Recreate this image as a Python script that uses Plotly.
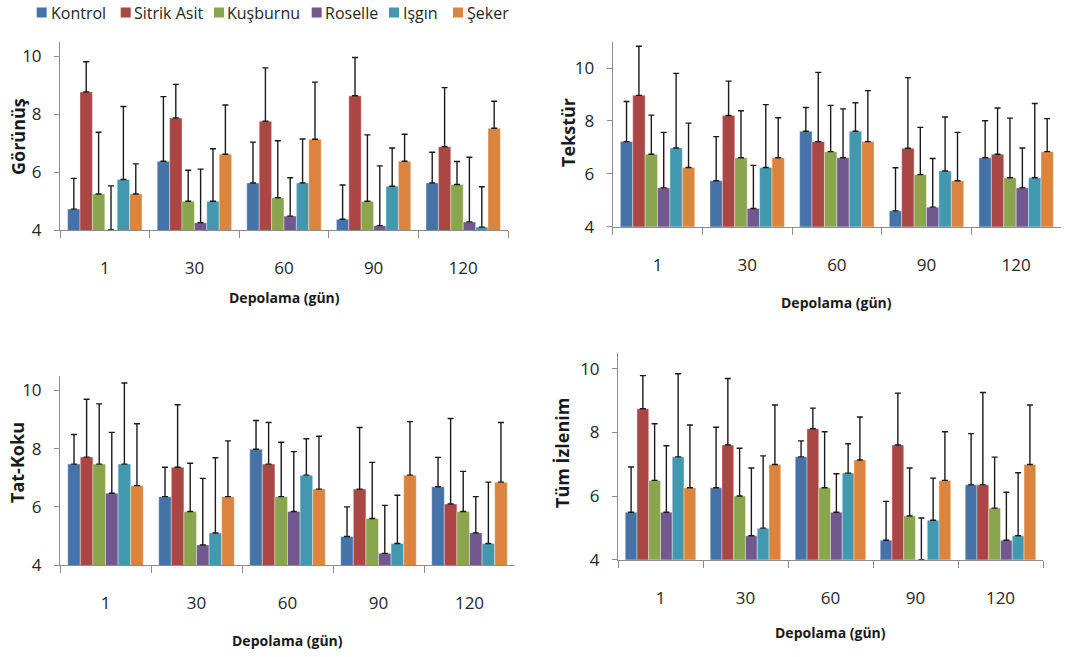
import plotly.graph_objects as go

W, H = 1081, 657

days = ["1", "30", "60", "90", "120"]
groups = ["Kontrol", "Sitrik Asit", "Kuşburnu", "Roselle", "Işgın", "Şeker"]
colors = ["#4572A7", "#AA4643", "#89A54E", "#71588F", "#4198AF", "#DB843D"]

# ---- Görünüş (appearance) ----
gorunus_kontrol = [4.72, 6.37, 5.62, 4.37, 5.62]
gorunus_sitrik = [8.76, 7.86, 7.75, 8.63, 6.87]
gorunus_kusburnu = [5.24, 4.99, 5.11, 4.99, 5.57]
gorunus_roselle = [4.00, 4.25, 4.48, 4.15, 4.28]
gorunus_isgin = [5.74, 4.99, 5.62, 5.51, 4.10]
gorunus_seker = [5.24, 6.61, 7.13, 6.37, 7.51]
gorunus_kontrol_sd = [1.06, 2.23, 1.41, 1.18, 1.06]
gorunus_sitrik_sd = [1.04, 1.16, 1.84, 1.32, 2.04]
gorunus_kusburnu_sd = [2.13, 1.07, 1.97, 2.29, 0.79]
gorunus_roselle_sd = [1.52, 1.85, 1.32, 2.06, 2.23]
gorunus_isgin_sd = [2.52, 1.81, 1.52, 1.32, 1.39]
gorunus_seker_sd = [1.04, 1.70, 1.97, 0.93, 0.93]

# ---- Tekstür (texture) ----
tekstur_kontrol = [7.22, 5.74, 7.61, 4.60, 6.61]
tekstur_sitrik = [8.97, 8.21, 7.22, 6.97, 6.74]
tekstur_kusburnu = [6.74, 6.61, 6.84, 5.97, 5.85]
tekstur_roselle = [5.47, 4.69, 6.61, 4.74, 5.47]
tekstur_isgin = [6.98, 6.24, 7.61, 6.11, 5.85]
tekstur_seker = [6.24, 6.61, 7.22, 5.74, 6.84]
tekstur_kontrol_sd = [1.52, 1.67, 0.90, 1.63, 1.40]
tekstur_sitrik_sd = [1.86, 1.30, 2.62, 2.67, 1.75]
tekstur_kusburnu_sd = [1.48, 1.78, 1.75, 1.79, 2.26]
tekstur_roselle_sd = [2.10, 1.63, 1.85, 1.84, 1.51]
tekstur_isgin_sd = [2.82, 2.38, 1.08, 2.04, 2.81]
tekstur_seker_sd = [1.68, 1.51, 1.93, 1.83, 1.25]

# ---- Tat-Koku (taste-odour) ----
tatkoku_kontrol = [7.47, 6.35, 7.98, 4.98, 6.69]
tatkoku_sitrik = [7.71, 7.36, 7.47, 6.61, 6.10]
tatkoku_kusburnu = [7.47, 5.84, 6.35, 5.60, 5.84]
tatkoku_roselle = [6.47, 4.69, 5.84, 4.40, 5.10]
tatkoku_isgin = [7.47, 5.10, 7.09, 4.74, 4.74]
tatkoku_seker = [6.73, 6.35, 6.61, 7.09, 6.85]
tatkoku_kontrol_sd = [1.02, 1.01, 0.99, 1.02, 1.01]
tatkoku_sitrik_sd = [1.99, 2.15, 1.43, 2.12, 2.94]
tatkoku_kusburnu_sd = [2.07, 1.66, 1.87, 1.93, 1.38]
tatkoku_roselle_sd = [2.09, 2.29, 2.06, 1.65, 1.25]
tatkoku_isgin_sd = [2.79, 2.59, 1.25, 1.66, 2.11]
tatkoku_seker_sd = [2.13, 1.92, 1.82, 1.84, 2.05]

# ---- Tüm İzlenim (overall impression) ----
tum_kontrol = [5.49, 6.26, 7.23, 4.61, 6.35]
tum_sitrik = [8.74, 7.60, 8.11, 7.60, 6.35]
tum_kusburnu = [6.49, 6.00, 6.26, 5.37, 5.62]
tum_roselle = [5.49, 4.75, 5.49, 4.00, 4.61]
tum_isgin = [7.23, 4.99, 6.72, 5.24, 4.75]
tum_seker = [6.26, 6.99, 7.13, 6.49, 6.99]
tum_kontrol_sd = [1.42, 1.90, 0.50, 1.22, 1.61]
tum_sitrik_sd = [1.04, 2.09, 0.65, 1.63, 2.90]
tum_kusburnu_sd = [1.78, 1.50, 1.76, 1.51, 1.60]
tum_roselle_sd = [2.09, 2.13, 1.21, 1.31, 1.51]
tum_isgin_sd = [2.61, 2.27, 0.92, 1.32, 1.98]
tum_seker_sd = [1.97, 1.87, 1.35, 1.53, 1.87]

panels = [
    dict(title="Görünüş",
         means=[gorunus_kontrol, gorunus_sitrik, gorunus_kusburnu, gorunus_roselle, gorunus_isgin, gorunus_seker],
         sds=[gorunus_kontrol_sd, gorunus_sitrik_sd, gorunus_kusburnu_sd, gorunus_roselle_sd, gorunus_isgin_sd, gorunus_seker_sd],
         box=(60, 508, 41.5, 230), ymax=10.5, ytitle=(18, 137), xtitle=(284, 297)),
    dict(title="Tekstür",
         means=[tekstur_kontrol, tekstur_sitrik, tekstur_kusburnu, tekstur_roselle, tekstur_isgin, tekstur_seker],
         sds=[tekstur_kontrol_sd, tekstur_sitrik_sd, tekstur_kusburnu_sd, tekstur_roselle_sd, tekstur_isgin_sd, tekstur_seker_sd],
         box=(612.7, 1061, 41.7, 226.7), ymax=11, ytitle=(568, 133), xtitle=(836.7, 302)),
    dict(title="Tat-Koku",
         means=[tatkoku_kontrol, tatkoku_sitrik, tatkoku_kusburnu, tatkoku_roselle, tatkoku_isgin, tatkoku_seker],
         sds=[tatkoku_kontrol_sd, tatkoku_sitrik_sd, tatkoku_kusburnu_sd, tatkoku_roselle_sd, tatkoku_isgin_sd, tatkoku_seker_sd],
         box=(60, 515, 376, 565), ymax=10.5, ytitle=(17, 463), xtitle=(287.5, 640)),
    dict(title="Tüm İzlenim",
         means=[tum_kontrol, tum_sitrik, tum_kusburnu, tum_roselle, tum_isgin, tum_seker],
         sds=[tum_kontrol_sd, tum_sitrik_sd, tum_kusburnu_sd, tum_roselle_sd, tum_isgin_sd, tum_seker_sd],
         box=(618, 1043, 352.7, 559.7), ymax=10.5, ytitle=(562, 453), xtitle=(830.8, 632)),
]

FONT = "Open Sans"
fig = go.Figure()
annotations = []
shapes = []
layout = {}

for p_i, p in enumerate(panels):
    sfx = "" if p_i == 0 else str(p_i + 1)
    for g_i, g in enumerate(groups):
        fig.add_trace(go.Bar(
            x=days, y=p["means"][g_i], name=g, legendgroup=g,
            marker=dict(color=colors[g_i], line=dict(color="rgba(255,255,255,0.55)", width=0.7)),
            error_y=dict(type="data", array=p["sds"][g_i], arrayminus=[0] * len(days),
                         symmetric=False, color="#1a1a1a", thickness=1.4, width=3),
            xaxis="x" + sfx, yaxis="y" + sfx,
            showlegend=False,
        ))
    x0, x1, y0, y1 = p["box"]
    layout["xaxis" + sfx] = dict(
        domain=[x0 / W, x1 / W], anchor="y" + sfx, type="category", automargin=False,
        showline=True, linecolor="#8c8c8c", linewidth=1,
        ticks="outside", tickson="boundaries", ticklen=7, tickcolor="#8c8c8c",
        ticklabelstandoff=23,
        tickfont=dict(family=FONT, size=17, color="#262626"),
        showgrid=False, zeroline=False, fixedrange=True,
    )
    layout["yaxis" + sfx] = dict(
        domain=[1 - y1 / H, 1 - y0 / H], anchor="x" + sfx, automargin=False,
        range=[4, p["ymax"]], tickvals=[4, 6, 8, 10], ticktext=["4", "6", "8", "10"],
        showline=True, linecolor="#8c8c8c", linewidth=1,
        ticks="outside", ticklen=5, tickcolor="#8c8c8c",
        ticklabelstandoff=9,
        tickfont=dict(family=FONT, size=17, color="#262626"),
        showgrid=False, zeroline=False, fixedrange=True,
    )
    tx, ty = p["ytitle"]
    annotations.append(dict(text="<b>" + p["title"] + "</b>", x=tx / W, y=1 - ty / H,
                            xref="paper", yref="paper", textangle=-90, showarrow=False,
                            xanchor="center", yanchor="middle",
                            font=dict(family=FONT, size=18, color="#1a1a1a")))
    ax, ay = p["xtitle"]
    annotations.append(dict(text="<b>Depolama (gün)</b>", x=ax / W, y=1 - ay / H,
                            xref="paper", yref="paper", showarrow=False,
                            xanchor="center", yanchor="middle",
                            font=dict(family=FONT, size=14, color="#1a1a1a")))

# legend (key squares + labels) across the top
legend_key_x = [36.7, 120.7, 214, 311.7, 389, 453]
legend_text_x = [50.7, 134, 227, 325, 403, 467]
for g_i, g in enumerate(groups):
    kx = legend_key_x[g_i]
    shapes.append(dict(type="rect", xref="paper", yref="paper",
                       x0=kx / W, x1=(kx + 10) / W, y0=1 - 17.5 / H, y1=1 - 7.5 / H,
                       fillcolor=colors[g_i], line=dict(width=0)))
    annotations.append(dict(text=g, x=(legend_text_x[g_i] - 2) / W, y=1 - 12.5 / H,
                            xref="paper", yref="paper", showarrow=False,
                            xanchor="left", yanchor="middle",
                            font=dict(family=FONT, size=16, color="#262626")))

fig.update_layout(
    width=W, height=H,
    margin=dict(l=0, r=0, t=0, b=0, autoexpand=False),
    paper_bgcolor="white", plot_bgcolor="white",
    barmode="group", bargap=0.17, bargroupgap=0,
    showlegend=False,
    annotations=annotations, shapes=shapes,
    **layout,
)

fig.write_html("out.html", config={"displayModeBar": False})
